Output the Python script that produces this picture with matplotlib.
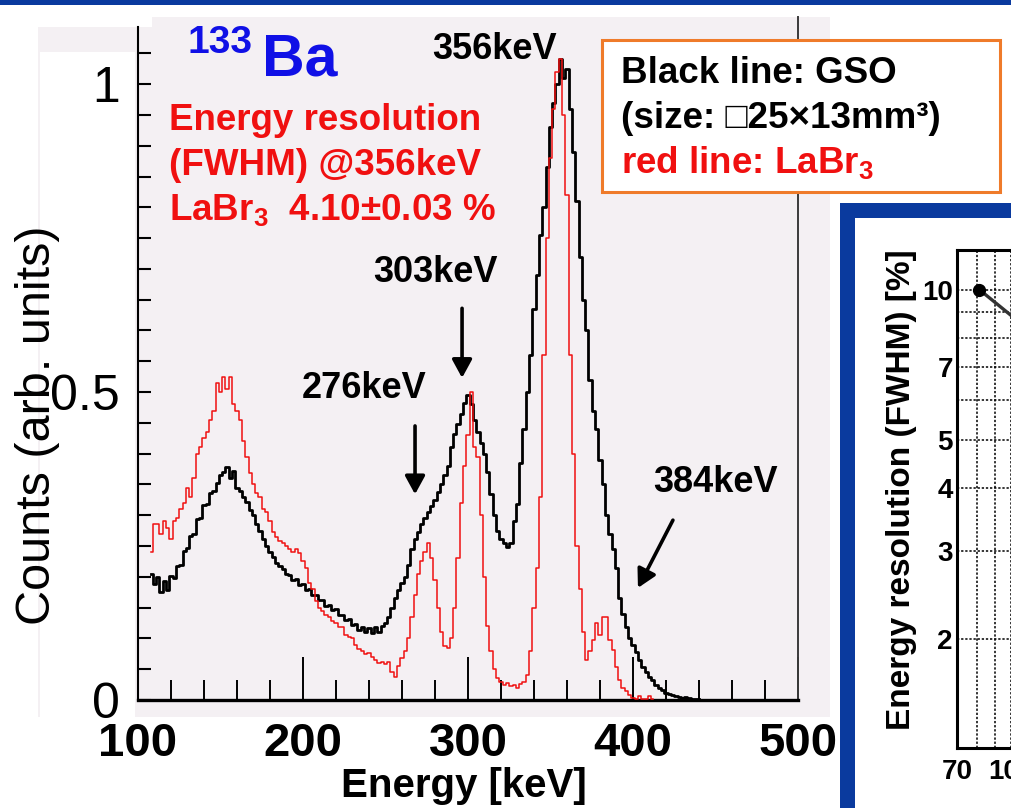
import matplotlib
matplotlib.use("Agg")
import matplotlib.pyplot as plt
from matplotlib.patches import Rectangle
from matplotlib.ticker import NullFormatter

plt.rcParams['font.family'] = ['Liberation Sans', 'DejaVu Sans']
plt.rcParams['mathtext.fontset'] = 'custom'
plt.rcParams['mathtext.default'] = 'regular'

# ---------------------------------------------------------------- data
# 133Ba spectra, 2 keV bins (bin centres in keV), normalised counts
gso_energy = list(range(108, 442, 2))
gso_counts = [
    0.205, 0.188, 0.200, 0.176, 0.194, 0.178, 0.202, 0.198, 0.218, 0.220,   # 108-126
    0.242, 0.246, 0.266, 0.270, 0.294, 0.296, 0.316, 0.318, 0.336, 0.340,   # 128-146
    0.352, 0.365, 0.370, 0.378, 0.360, 0.372, 0.345, 0.340, 0.330, 0.322,   # 148-166
    0.308, 0.300, 0.285, 0.275, 0.262, 0.250, 0.240, 0.232, 0.222, 0.218,   # 168-186
    0.212, 0.204, 0.203, 0.195, 0.196, 0.186, 0.189, 0.178, 0.180, 0.170,   # 188-206
    0.171, 0.162, 0.163, 0.153, 0.155, 0.146, 0.147, 0.138, 0.138, 0.130,   # 208-226
    0.131, 0.122, 0.124, 0.113, 0.118, 0.110, 0.117, 0.108, 0.118, 0.111,   # 228-246
    0.120, 0.125, 0.135, 0.150, 0.165, 0.178, 0.190, 0.200, 0.220, 0.245,   # 248-266
    0.262, 0.272, 0.285, 0.295, 0.305, 0.315, 0.325, 0.338, 0.350, 0.365,   # 268-286
    0.380, 0.410, 0.432, 0.448, 0.465, 0.482, 0.495, 0.480, 0.455, 0.435,   # 288-306
    0.418, 0.400, 0.370, 0.335, 0.300, 0.275, 0.262, 0.255, 0.248, 0.255,   # 308-326
    0.290, 0.318, 0.385, 0.440, 0.500, 0.560, 0.635, 0.690, 0.755, 0.800,   # 328-346
    0.865, 0.930, 0.970, 1.000, 1.040, 1.010, 1.025, 0.960, 0.890, 0.810,   # 348-366
    0.720, 0.650, 0.600, 0.520, 0.470, 0.440, 0.390, 0.350, 0.300, 0.270,   # 368-386
    0.245, 0.215, 0.165, 0.140, 0.118, 0.100, 0.090, 0.078, 0.065, 0.054,   # 388-406
    0.045, 0.038, 0.032, 0.025, 0.020, 0.016, 0.012, 0.010, 0.008, 0.006,   # 408-426
    0.005, 0.004, 0.005, 0.003, 0.002, 0.002, 0.001,                        # 428-440
]

labr_energy = list(range(108, 414, 2))
labr_counts = [
    0.240, 0.285, 0.285, 0.270, 0.290, 0.280, 0.262, 0.290, 0.295, 0.310,   # 108-126
    0.320, 0.345, 0.330, 0.360, 0.400, 0.410, 0.425, 0.435, 0.455, 0.470,   # 128-146
    0.515, 0.500, 0.525, 0.505, 0.525, 0.480, 0.470, 0.455, 0.420, 0.395,   # 148-166
    0.368, 0.350, 0.336, 0.330, 0.310, 0.305, 0.290, 0.272, 0.265, 0.258,   # 168-186
    0.255, 0.250, 0.245, 0.240, 0.245, 0.238, 0.225, 0.215, 0.190, 0.180,   # 188-206
    0.160, 0.150, 0.145, 0.138, 0.135, 0.128, 0.125, 0.118, 0.118, 0.105,   # 208-226
    0.102, 0.100, 0.090, 0.082, 0.080, 0.075, 0.076, 0.070, 0.065, 0.060,   # 228-246
    0.062, 0.058, 0.062, 0.045, 0.038, 0.055, 0.068, 0.080, 0.100, 0.135,   # 248-266
    0.170, 0.205, 0.225, 0.240, 0.255, 0.230, 0.195, 0.150, 0.110, 0.088,   # 268-286
    0.085, 0.100, 0.150, 0.230, 0.320, 0.380, 0.430, 0.500, 0.410, 0.395,   # 288-306
    0.300, 0.200, 0.120, 0.080, 0.050, 0.035, 0.030, 0.025, 0.028, 0.022,   # 308-326
    0.024, 0.020, 0.026, 0.030, 0.040, 0.080, 0.150, 0.215, 0.330, 0.560,   # 328-346
    0.750, 0.880, 0.960, 1.020, 1.040, 0.950, 0.820, 0.560, 0.400, 0.250,   # 348-366
    0.180, 0.110, 0.065, 0.080, 0.097, 0.125, 0.105, 0.135, 0.135, 0.097,   # 368-386
    0.081, 0.054, 0.032, 0.020, 0.014, 0.008, 0.004, 0.002, 0.006, 0.002,   # 388-406
    0.001, 0.006, 0.001,                                                    # 408-412
]

x_ticks = [100, 200, 300, 400, 500]
x_tick_labels = ['100', '200', '300', '400', '500']
y_ticks = [0, 0.5, 1]
y_tick_labels = ['0', '0.5', '1']

# energy-resolution inset
res_energy = [81, 303, 356, 662]
res_fwhm = [10.0, 4.7, 4.1, 3.0]
res_x_ticks = [70, 100]
res_x_tick_labels = ['70', '100']
res_y_ticks = [2, 3, 4, 5, 7, 10]
res_y_tick_labels = ['2', '3', '4', '5', '7', '10']

# ---------------------------------------------------------------- figure
W, H, DPI = 1011, 808, 100
fig = plt.figure(figsize=(W / DPI, H / DPI), dpi=DPI)
fig.patch.set_facecolor('white')


def fx(px):
    return px / W


def fy(py):
    return 1 - py / H


def add_rect(x0, y0, x1, y1, z, **kw):
    r = Rectangle((fx(x0), fy(y1)), fx(x1) - fx(x0), fy(y0) - fy(y1),
                  transform=fig.transFigure, zorder=z, **kw)
    fig.add_artist(r)
    return r


BLUE = '#0a3a9e'
PANEL = '#f4f0f3'

# slide decorations
add_rect(0, 0, W, 5, 0.5, facecolor=BLUE, edgecolor='none')
add_rect(38, 17, 830, 717, -2, facecolor=PANEL, edgecolor='none')
add_rect(40, 52, 135, 717, -1, facecolor='white', edgecolor='none')
add_rect(38, 17, 152, 27, -1, facecolor='white', edgecolor='none')

# ---------------------------------------------------------------- spectrum
ax = fig.add_axes([fx(138), fy(700), fx(798) - fx(138), fy(17) - fy(700)])
ax.patch.set_visible(False)
ax.set_xlim(100, 500)
ax.set_ylim(0, 1.109)

ax.plot(gso_energy, gso_counts, drawstyle='steps-mid', color='black', lw=2.0, zorder=2)
ax.plot(labr_energy, labr_counts, drawstyle='steps-mid', color='#f01010', lw=1.1, zorder=3)

ax.spines['top'].set_visible(False)
ax.spines['left'].set_bounds(0, 1.093)
ax.spines['left'].set_linewidth(1.5)
ax.spines['bottom'].set_linewidth(2.4)
ax.spines['right'].set_linewidth(1.4)
ax.spines['right'].set_color('#3a3a3a')

ax.set_xticks(x_ticks)
ax.set_xticklabels(x_tick_labels, fontsize=34, fontweight='bold')
ax.set_xticks(list(range(120, 500, 20)), minor=True)
ax.tick_params(axis='x', which='major', direction='in', length=31, width=1.4, pad=16)
ax.tick_params(axis='x', which='minor', direction='in', length=14.4, width=1.4)

ax.set_yticks(y_ticks)
ax.set_yticklabels(y_tick_labels, fontsize=36)
ax.set_yticks([i * 0.05 for i in range(22)], minor=True)
ax.tick_params(axis='y', which='both', direction='in', length=9.4, width=1.5, pad=13)
ax.tick_params(right=False, top=False, which='both')

ax.set_xlabel('Energy [keV]', fontsize=29, fontweight='bold')
ax.xaxis.set_label_coords(0.494, -0.098)
ax.set_ylabel('Counts (arb. units)', fontsize=35)
ax.yaxis.set_label_coords(-0.118, 0.403)

# source label
ax.text(129.7, 1.050, '133', color='#1010e6', fontsize=28, fontweight='bold',
        va='baseline', clip_on=False)
ax.text(175.2, 1.0146, 'Ba', color='#1010e6', fontsize=42.5, fontweight='bold',
        va='baseline', clip_on=False)

# resolution statement
RED = '#f01010'
ax.text(118.8, 0.925, 'Energy resolution', color=RED, fontsize=26.5,
        fontweight='bold', va='baseline')
ax.text(118.8, 0.852, '(FWHM) @356keV', color=RED, fontsize=26.5,
        fontweight='bold', va='baseline')
ax.text(118.8, 0.779, r'LaBr$_3$  4.10±0.03 %', color=RED, fontsize=26.5,
        fontweight='bold', va='baseline')

# peak labels and arrows
ax.text(278.2, 1.041, '356keV', fontsize=26, fontweight='bold', va='baseline', clip_on=False)
ax.text(242.4, 0.679, '303keV', fontsize=26, fontweight='bold', va='baseline')
ax.text(199.4, 0.490, '276keV', fontsize=26, fontweight='bold', va='baseline')
ax.text(412.1, 0.338, '384keV', fontsize=26, fontweight='bold', va='baseline')

arrow_kw = dict(arrowstyle='-|>,head_length=0.55,head_width=0.3', color='black',
                lw=2.6, mutation_scale=20, shrinkA=0, shrinkB=0)
ax.annotate('', xy=(296.4, 0.523), xytext=(296.4, 0.636), arrowprops=arrow_kw)
ax.annotate('', xy=(267.9, 0.334), xytext=(267.9, 0.445), arrowprops=arrow_kw)
ax.annotate('', xy=(403.0, 0.182), xytext=(424.2, 0.292), arrowprops=arrow_kw)

# description box
add_rect(602, 40, 1000, 192, 5, facecolor='white', edgecolor='#ef7b2a', lw=2.2)
fig.text(fx(621), fy(83), 'Black line: GSO', fontsize=26.5, fontweight='bold',
         va='baseline', zorder=6)
fig.text(fx(621), fy(128), '(size: \u25a125\u00d713mm\u00b3)', fontsize=26.5,
         fontweight='bold', va='baseline', zorder=6)
fig.text(fx(621), fy(173), r'red line: LaBr$_3$', color=RED, fontsize=26.5,
         fontweight='bold', va='baseline', zorder=6)

# ---------------------------------------------------------------- inset
add_rect(840, 203, W + 5, H + 5, 1.5, facecolor=BLUE, edgecolor='none')
add_rect(855, 218, W + 5, H + 5, 1.6, facecolor='white', edgecolor='none')

axi = fig.add_axes([fx(957), fy(748), 406 / W, 498 / H], zorder=3)
axi.set_xscale('log')
axi.set_yscale('log')
axi.set_xlim(70, 1000)
axi.set_ylim(1.21, 12)
axi.plot(res_energy, res_fwhm, '-', color='#333333', lw=2.4, zorder=3)
axi.plot(res_energy, res_fwhm, 'o', color='black', markersize=8.5, zorder=4)

axi.set_xticks(res_x_ticks)
axi.set_xticklabels(res_x_tick_labels, fontsize=20, fontweight='bold')
axi.set_xticks([80, 90], minor=True)
axi.xaxis.set_minor_formatter(NullFormatter())
axi.set_yticks(res_y_ticks)
axi.set_yticklabels(res_y_tick_labels, fontsize=20, fontweight='bold')
axi.set_yticks([6, 8, 9], minor=True)
axi.yaxis.set_minor_formatter(NullFormatter())
axi.tick_params(which='both', length=0)
axi.tick_params(axis='x', pad=8)
axi.tick_params(axis='y', pad=3)
axi.grid(True, which='both', color='black', linestyle=(0, (1.5, 1.2)), linewidth=1.1)
for sp in axi.spines.values():
    sp.set_linewidth(2.2)
axi.set_ylabel('Energy resolution (FWHM) [%]', fontsize=24, fontweight='bold')
axi.yaxis.set_label_coords(-0.0985, 0.518)

fig.savefig('out.png', dpi=DPI)
